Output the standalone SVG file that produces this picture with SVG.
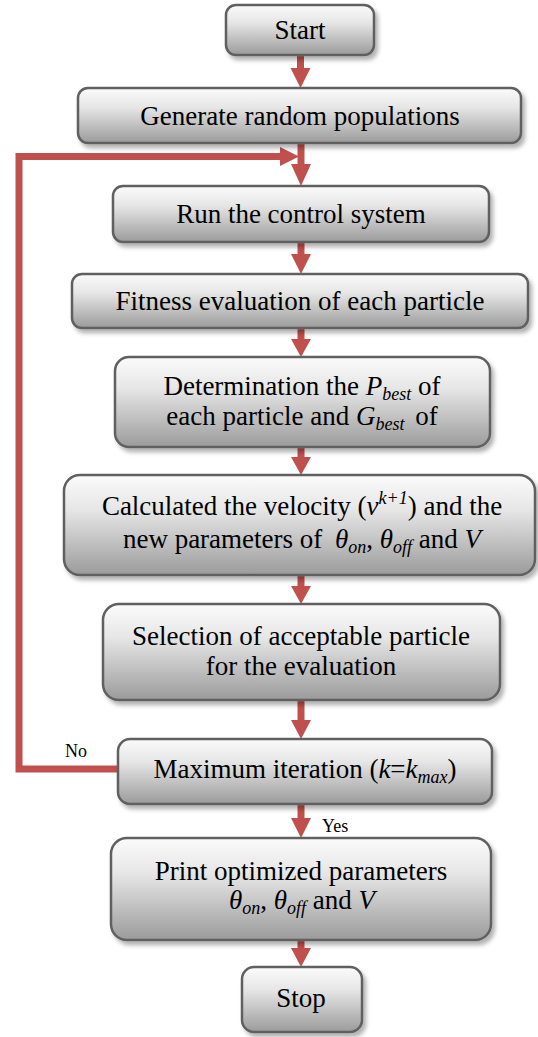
<svg xmlns="http://www.w3.org/2000/svg" width="538" height="1037" viewBox="0 0 538 1037">
<style>
text{font-family:"Liberation Serif","Times New Roman",Tinos,"Noto Serif","DejaVu Serif",FreeSerif,serif}
.box{fill:url(#g);stroke:#606060;stroke-width:2.5;filter:url(#sh)}
.t{font-size:27px;fill:#000;text-anchor:middle}
.i{font-style:italic}
.s{font-style:italic;font-size:18px}
.lbl{font-size:18px;fill:#000}
.ln{fill:none;stroke:#C0504D;stroke-width:7}
.hd{fill:#C0504D}
</style>
<defs>
<linearGradient id="g" x1="0" y1="0" x2="0" y2="1">
<stop offset="0" stop-color="#fbfbfb"/>
<stop offset="0.35" stop-color="#e6e6e6"/>
<stop offset="1" stop-color="#9b9b9b"/>
</linearGradient>
<filter id="sh" x="-10%" y="-10%" width="120%" height="130%">
<feDropShadow dx="3" dy="4" stdDeviation="2" flood-color="#000" flood-opacity="0.3"/>
</filter>
</defs>

<g id="connectors">
<line class="ln" x1="300.5" y1="55" x2="300.5" y2="69"/>
<polygon class="hd" points="290.5,68 310.5,68 300.5,88"/>
<line class="ln" x1="301" y1="143" x2="301" y2="165"/>
<polygon class="hd" points="291,164 311,164 301,186"/>
<polyline class="ln" points="118,769 19,769 19,156.5 281,156.5"/>
<polygon class="hd" points="280,147 280,166 299,156.5"/>
<line class="ln" x1="301" y1="242" x2="301" y2="255"/>
<polygon class="hd" points="291,254 311,254 301,274"/>
<line class="ln" x1="301" y1="328" x2="301" y2="340"/>
<polygon class="hd" points="291,339 311,339 301,357"/>
<line class="ln" x1="301" y1="447" x2="301" y2="458"/>
<polygon class="hd" points="291,457 311,457 301,475"/>
<line class="ln" x1="301" y1="575" x2="301" y2="587"/>
<polygon class="hd" points="291,586 311,586 301,604"/>
<line class="ln" x1="301" y1="700" x2="301" y2="721"/>
<polygon class="hd" points="291,720 311,720 301,739"/>
<line class="ln" x1="301" y1="804" x2="301" y2="819"/>
<polygon class="hd" points="291,818 311,818 301,838"/>
<line class="ln" x1="301" y1="940" x2="301" y2="949"/>
<polygon class="hd" points="291,948 311,948 301,967"/>
<text class="lbl" x="65" y="757">No</text>
<text class="lbl" x="322" y="832">Yes</text>
</g>

<g id="start">
<rect class="box" x="226" y="5" width="148" height="50" rx="10"/>
<text class="t" x="300" y="39">Start</text>
</g>
<g id="generate">
<rect class="box" x="78" y="88" width="443" height="55" rx="10"/>
<text class="t" x="300" y="125">Generate random populations</text>
</g>
<g id="run">
<rect class="box" x="113" y="186" width="376" height="56" rx="10"/>
<text class="t" x="301" y="223">Run the control system</text>
</g>
<g id="fitness">
<rect class="box" x="72" y="274" width="456" height="54" rx="10"/>
<text class="t" x="300" y="310">Fitness evaluation of each particle</text>
</g>
<g id="determination">
<rect class="box" x="115" y="357" width="375" height="90" rx="14"/>
<text class="t" x="302" y="395">Determination the <tspan class="i">P</tspan><tspan class="s" dy="5">best</tspan><tspan dy="-5"> of</tspan></text>
<text class="t" x="302" y="425">each particle and <tspan class="i">G</tspan><tspan class="s" dy="5">best</tspan><tspan dy="-5" dx="4"> of</tspan></text>
</g>
<g id="calculated">
<rect class="box" x="64" y="475" width="471" height="100" rx="16"/>
<text class="t" x="302" y="515">Calculated the velocity (<tspan class="i">v</tspan><tspan class="s" dy="-11">k+1</tspan><tspan dy="11">) and the</tspan></text>
<text class="t" x="302" y="548">new parameters of <tspan class="i" dx="6">θ</tspan><tspan class="s" dy="5">on</tspan><tspan dy="-5">, </tspan><tspan class="i">θ</tspan><tspan class="s" dy="5">off</tspan><tspan dy="-5"> and </tspan><tspan class="i">V</tspan></text>
</g>
<g id="selection">
<rect class="box" x="103" y="604" width="397" height="96" rx="16"/>
<text class="t" x="301" y="645">Selection of acceptable particle</text>
<text class="t" x="301" y="675">for the evaluation</text>
</g>
<g id="maximum">
<rect class="box" x="118" y="739" width="374" height="65" rx="12"/>
<text class="t" x="305" y="778">Maximum iteration (<tspan class="i">k</tspan>=<tspan class="i">k</tspan><tspan class="s" dy="5">max</tspan><tspan dy="-5">)</tspan></text>
</g>
<g id="print">
<rect class="box" x="111" y="838" width="380" height="102" rx="16"/>
<text class="t" x="301" y="880">Print optimized parameters</text>
<text class="t" x="302" y="909"><tspan class="i">θ</tspan><tspan class="s" dy="5">on</tspan><tspan dy="-5">, </tspan><tspan class="i">θ</tspan><tspan class="s" dy="5">off</tspan><tspan dy="-5"> and </tspan><tspan class="i">V</tspan></text>
</g>
<g id="stop">
<rect class="box" x="242" y="967" width="120" height="65" rx="12"/>
<text class="t" x="301" y="1007">Stop</text>
</g>
</svg>
